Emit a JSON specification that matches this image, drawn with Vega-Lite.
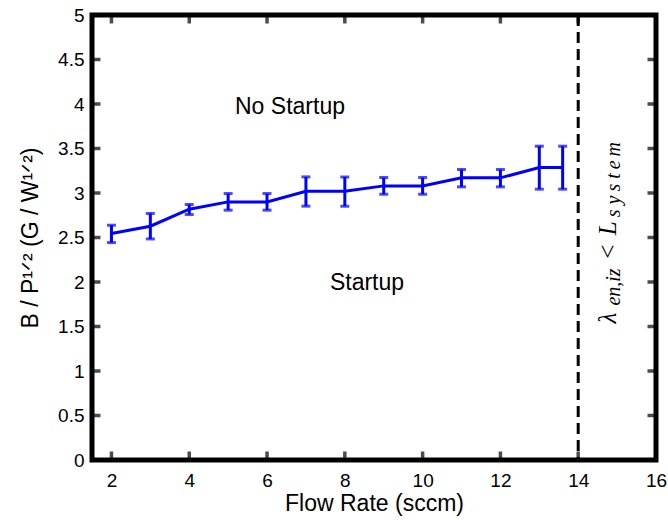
{
  "$schema": "https://vega.github.io/schema/vega-lite/v6.json",
  "width": 564,
  "height": 445,
  "autosize": "none",
  "padding": {"left": 92, "top": 15, "right": 12, "bottom": 60},
  "background": "white",
  "view": {"stroke": null},
  "config": {
    "view": {"stroke": null},
    "axis": {
      "labelFont": "Liberation Sans",
      "labelFontSize": 19,
      "labelColor": "black",
      "titleFont": "Liberation Sans",
      "titleFontSize": 23,
      "titleFontWeight": "normal",
      "titleColor": "black",
      "grid": false,
      "domain": false,
      "ticks": false,
      "tickSize": 0,
      "labelFlush": false,
      "labelOverlap": false,
      "labelBound": false
    }
  },
  "datasets": {
    "points": [
      {"flow": 2, "b": 2.544, "lo": 2.443, "hi": 2.638},
      {"flow": 3, "b": 2.627, "lo": 2.484, "hi": 2.77},
      {"flow": 4, "b": 2.818, "lo": 2.758, "hi": 2.871},
      {"flow": 5, "b": 2.9, "lo": 2.807, "hi": 2.994},
      {"flow": 6, "b": 2.9, "lo": 2.807, "hi": 2.994},
      {"flow": 7, "b": 3.02, "lo": 2.852, "hi": 3.181},
      {"flow": 8, "b": 3.02, "lo": 2.852, "hi": 3.181},
      {"flow": 9, "b": 3.08, "lo": 2.986, "hi": 3.174},
      {"flow": 10, "b": 3.08, "lo": 2.986, "hi": 3.174},
      {"flow": 11, "b": 3.17, "lo": 3.069, "hi": 3.264},
      {"flow": 12, "b": 3.17, "lo": 3.069, "hi": 3.264},
      {"flow": 13, "b": 3.287, "lo": 3.043, "hi": 3.526},
      {"flow": 13.6, "b": 3.287, "lo": 3.043, "hi": 3.526}
    ],
    "regions": [
      {"x": 6.59, "y": 3.97, "label": "No Startup"},
      {"x": 8.57, "y": 1.99, "label": "Startup"}
    ],
    "threshold": [{"x": 14}],
    "frame": [{"x1": 1.5, "x2": 16, "y1": 0, "y2": 5}],
    "xticks": [
      {"x": 2, "y": 0}, {"x": 4, "y": 0}, {"x": 6, "y": 0}, {"x": 8, "y": 0},
      {"x": 10, "y": 0}, {"x": 12, "y": 0}, {"x": 14, "y": 0}, {"x": 16, "y": 0},
      {"x": 2, "y": 5}, {"x": 4, "y": 5}, {"x": 6, "y": 5}, {"x": 8, "y": 5},
      {"x": 10, "y": 5}, {"x": 12, "y": 5}, {"x": 14, "y": 5}, {"x": 16, "y": 5}
    ],
    "yticks": [
      {"x": 1.5, "y": 0}, {"x": 1.5, "y": 0.5}, {"x": 1.5, "y": 1}, {"x": 1.5, "y": 1.5},
      {"x": 1.5, "y": 2}, {"x": 1.5, "y": 2.5}, {"x": 1.5, "y": 3}, {"x": 1.5, "y": 3.5},
      {"x": 1.5, "y": 4}, {"x": 1.5, "y": 4.5}, {"x": 1.5, "y": 5},
      {"x": 16, "y": 0}, {"x": 16, "y": 0.5}, {"x": 16, "y": 1}, {"x": 16, "y": 1.5},
      {"x": 16, "y": 2}, {"x": 16, "y": 2.5}, {"x": 16, "y": 3}, {"x": 16, "y": 3.5},
      {"x": 16, "y": 4}, {"x": 16, "y": 4.5}, {"x": 16, "y": 5}
    ],
    "lambda": [
      {"x": 14.97, "y": 1.535, "t": "λ", "level": "base"},
      {"x": 14.97, "y": 1.735, "t": "en,iz", "level": "sub"},
      {"x": 14.97, "y": 2.244, "t": "<", "level": "base"},
      {"x": 14.97, "y": 2.525, "t": "L", "level": "base"},
      {"x": 14.97, "y": 2.728, "t": "s", "level": "sub"},
      {"x": 14.97, "y": 2.87, "t": "y", "level": "sub"},
      {"x": 14.97, "y": 3.017, "t": "s", "level": "sub"},
      {"x": 14.97, "y": 3.159, "t": "t", "level": "sub"},
      {"x": 14.97, "y": 3.268, "t": "e", "level": "sub"},
      {"x": 14.97, "y": 3.409, "t": "m", "level": "sub"}
    ]
  },
  "layer": [
    {
      "data": {"name": "threshold"},
      "mark": {"type": "rule", "color": "black", "strokeWidth": 3, "strokeDash": [11, 6]},
      "encoding": {
        "x": {"field": "x", "type": "quantitative", "scale": {"domain": [1.5, 16], "nice": false, "zero": false}, "axis": null}
      }
    },
    {
      "data": {"name": "points"},
      "mark": {"type": "line", "color": "#0000FF", "strokeWidth": 3},
      "encoding": {
        "x": {
          "field": "flow", "type": "quantitative",
          "scale": {"domain": [1.5, 16], "nice": false, "zero": false},
          "axis": {"orient": "bottom", "values": [2, 4, 6, 8, 10, 12, 14, 16], "format": "~g", "labelPadding": 11, "title": "Flow Rate (sccm)", "titleY": 50, "titleBaseline": "alphabetic"}
        },
        "y": {
          "field": "b", "type": "quantitative",
          "scale": {"domain": [0, 5], "nice": false, "zero": false},
          "axis": {"orient": "left", "values": [0, 0.5, 1, 1.5, 2, 2.5, 3, 3.5, 4, 4.5, 5], "format": "~g", "labelPadding": 8, "title": "B / P¹ᐟ² (G / W¹ᐟ²)", "titleX": -55, "titleBaseline": "alphabetic"}
        }
      }
    },
    {
      "data": {"name": "points"},
      "mark": {"type": "rule", "color": "#0000FF", "strokeWidth": 3},
      "encoding": {
        "x": {"field": "flow", "type": "quantitative", "scale": {"domain": [1.5, 16], "nice": false, "zero": false}, "axis": null},
        "y": {"field": "lo", "type": "quantitative", "scale": {"domain": [0, 5], "nice": false, "zero": false}, "axis": null},
        "y2": {"field": "hi"}
      }
    },
    {
      "data": {"name": "points"},
      "mark": {"type": "tick", "orient": "horizontal", "color": "#0000FF", "size": 9, "thickness": 3},
      "encoding": {
        "x": {"field": "flow", "type": "quantitative", "scale": {"domain": [1.5, 16], "nice": false, "zero": false}, "axis": null},
        "y": {"field": "lo", "type": "quantitative", "scale": {"domain": [0, 5], "nice": false, "zero": false}, "axis": null}
      }
    },
    {
      "data": {"name": "points"},
      "mark": {"type": "tick", "orient": "horizontal", "color": "#0000FF", "size": 9, "thickness": 3},
      "encoding": {
        "x": {"field": "flow", "type": "quantitative", "scale": {"domain": [1.5, 16], "nice": false, "zero": false}, "axis": null},
        "y": {"field": "hi", "type": "quantitative", "scale": {"domain": [0, 5], "nice": false, "zero": false}, "axis": null}
      }
    },
    {
      "data": {"name": "regions"},
      "mark": {"type": "text", "font": "Liberation Sans", "fontSize": 23, "color": "black", "align": "center", "baseline": "middle"},
      "encoding": {
        "x": {"field": "x", "type": "quantitative", "scale": {"domain": [1.5, 16], "nice": false, "zero": false}, "axis": null},
        "y": {"field": "y", "type": "quantitative", "scale": {"domain": [0, 5], "nice": false, "zero": false}, "axis": null},
        "text": {"field": "label"}
      }
    },
    {
      "data": {"name": "lambda"},
      "transform": [{"filter": "datum.level === 'base'"}],
      "mark": {"type": "text", "font": "Liberation Serif", "fontStyle": "italic", "fontSize": 25, "color": "black", "align": "left", "baseline": "alphabetic", "angle": 270},
      "encoding": {
        "x": {"field": "x", "type": "quantitative", "scale": {"domain": [1.5, 16], "nice": false, "zero": false}, "axis": null},
        "y": {"field": "y", "type": "quantitative", "scale": {"domain": [0, 5], "nice": false, "zero": false}, "axis": null},
        "text": {"field": "t"}
      }
    },
    {
      "data": {"name": "lambda"},
      "transform": [{"filter": "datum.level === 'sub'"}],
      "mark": {"type": "text", "font": "Liberation Serif", "fontStyle": "italic", "fontSize": 20, "color": "black", "align": "left", "baseline": "alphabetic", "angle": 270, "dy": 4},
      "encoding": {
        "x": {"field": "x", "type": "quantitative", "scale": {"domain": [1.5, 16], "nice": false, "zero": false}, "axis": null},
        "y": {"field": "y", "type": "quantitative", "scale": {"domain": [0, 5], "nice": false, "zero": false}, "axis": null},
        "text": {"field": "t"}
      }
    },
    {
      "data": {"name": "xticks"},
      "mark": {"type": "tick", "orient": "vertical", "color": "black", "size": 17, "thickness": 3.5, "clip": true},
      "encoding": {
        "x": {"field": "x", "type": "quantitative", "scale": {"domain": [1.5, 16], "nice": false, "zero": false}, "axis": null},
        "y": {"field": "y", "type": "quantitative", "scale": {"domain": [0, 5], "nice": false, "zero": false}, "axis": null}
      }
    },
    {
      "data": {"name": "yticks"},
      "mark": {"type": "tick", "orient": "horizontal", "color": "black", "size": 17, "thickness": 3.5, "clip": true},
      "encoding": {
        "x": {"field": "x", "type": "quantitative", "scale": {"domain": [1.5, 16], "nice": false, "zero": false}, "axis": null},
        "y": {"field": "y", "type": "quantitative", "scale": {"domain": [0, 5], "nice": false, "zero": false}, "axis": null}
      }
    },
    {
      "data": {"name": "frame"},
      "mark": {"type": "rect", "fill": null, "fillOpacity": 0, "stroke": "black", "strokeWidth": 5},
      "encoding": {
        "x": {"field": "x1", "type": "quantitative", "scale": {"domain": [1.5, 16], "nice": false, "zero": false}, "axis": null},
        "x2": {"field": "x2"},
        "y": {"field": "y1", "type": "quantitative", "scale": {"domain": [0, 5], "nice": false, "zero": false}, "axis": null},
        "y2": {"field": "y2"}
      }
    }
  ],
  "resolve": {"axis": {"x": "independent", "y": "independent"}}
}
